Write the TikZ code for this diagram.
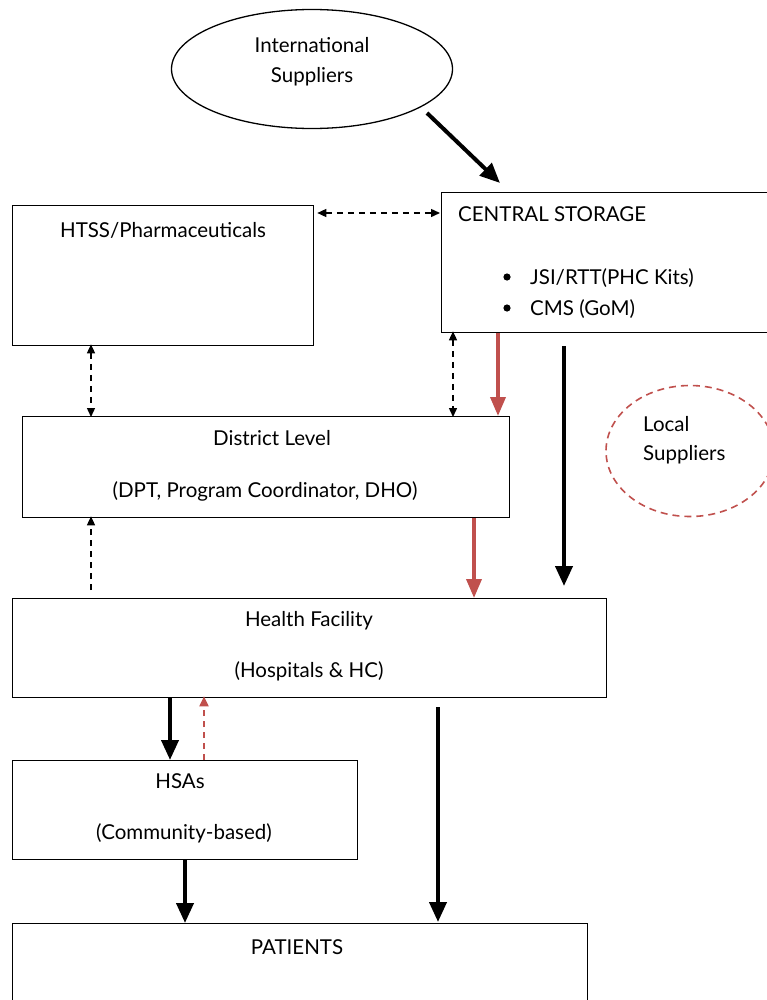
\documentclass[tikz,border=0pt]{standalone}
\usepackage{fontspec}
\setmainfont{Lato}
\usetikzlibrary{arrows.meta,shapes.geometric}
\definecolor{flowred}{RGB}{192,80,77}
\tikzset{
  box/.style={draw=black, line width=1.3bp, anchor=north west, inner sep=0pt},
  lbl/.style={font=\fontsize{20.5bp}{24bp}\selectfont, inner sep=0pt, anchor=base},
  lbll/.style={lbl, anchor=base west},
  bold/.style={line width=4bp, -{Triangle[length=20bp,width=17bp]}},
  redflow/.style={line width=3.6bp, draw=flowred, -{Triangle[length=19bp,width=15bp]}, flowred},
  info/.style={line width=1.4bp, dash pattern=on 6bp off 5bp, {Triangle[length=9bp,width=8bp]}-{Triangle[length=9bp,width=8bp]}},
  infoup/.style={line width=1.4bp, dash pattern=on 6bp off 5bp, -{Triangle[length=9bp,width=8bp]}},
  redup/.style={line width=1.8bp, draw=flowred, dash pattern=on 6bp off 5bp, -{Triangle[length=10bp,width=9bp]}, flowred}
}
\begin{document}
\begin{tikzpicture}[x=1bp,y=-1bp]
\useasboundingbox (0,0) rectangle (767,1000);

% suppliers
\node[ellipse, draw, line width=1.3bp, minimum width=281bp, minimum height=119bp] (intl) at (312,69) {};
\node[lbl] (intl1) at (312,52) {International};
\node[lbl] (intl2) at (312,82) {Suppliers};
\node[ellipse, draw=flowred, line width=1.6bp, dash pattern=on 7bp off 5bp, minimum width=168bp, minimum height=131bp] (local) at (690,451) {};
\node[lbll] (local1) at (643,431) {Local};
\node[lbll] (local2) at (643,460) {Suppliers};

% boxes
\node[box, minimum width=301bp, minimum height=140bp] (htss) at (12,205) {};
\node[lbl] (htsst) at (163,237) {HTSS/Pharmaceuticals};

\node[box, minimum width=330bp, minimum height=140bp] (cs) at (441,192) {};
\node[lbll] (cst) at (458,221) {CENTRAL STORAGE};
\node[lbll] (cs1) at (530,284) {JSI/RTT(PHC Kits)};
\node[lbll] (cs2) at (530,315) {CMS (GoM)};
\fill (507,277) circle (3.6bp);
\fill (507,308) circle (3.6bp);

\node[box, minimum width=487bp, minimum height=101bp] (dist) at (22,416) {};
\node[lbl] (dist1) at (272,445) {District Level};
\node[lbl] (dist2) at (265,497) {(DPT, Program Coordinator, DHO)};

\node[box, minimum width=594bp, minimum height=99bp] (hf) at (12,598) {};
\node[lbl] (hf1) at (309,626) {Health Facility};
\node[lbl] (hf2) at (309,677) {(Hospitals \& HC)};

\node[box, minimum width=345bp, minimum height=99bp] (hsa) at (12,760) {};
\node[lbl] (hsa1) at (180,788) {HSAs};
\node[lbl] (hsa2) at (184,839) {(Community-based)};

\node[box, minimum width=575bp, minimum height=120bp] (pat) at (12,923) {};
\node[lbl] (pat1) at (297,954) {PATIENTS};

% connector end points
\coordinate (a0) at (427,113);
\coordinate (a1) at (500,183);
\coordinate (b0) at (564,346);
\coordinate (b1) at (564,586);
\coordinate (c0) at (438,707);
\coordinate (c1) at (438,922);
\coordinate (d0) at (91,590);

% flows
\draw[bold] (a0) -- (a1);
\draw[info] (htss.north east |- 0,213) ++(3,0) -- ([xshift=-1bp]cs.west |- 0,213);
\draw[info] ([yshift=2bp]htss.south -| 91,0) -- ([yshift=-1bp]dist.north -| 91,0);
\draw[info] ([yshift=2bp]cs.south -| 453,0) -- ([yshift=-1bp]dist.north -| 453,0);
\draw[redflow] (cs.south -| 498,0) -- (dist.north -| 498,0);
\draw[bold] (b0) -- (b1);
\draw[infoup] (d0) -- ([yshift=2bp]dist.south -| 91,0);
\draw[redflow] (dist.south -| 474,0) -- (hf.north -| 474,0);
\draw[bold] (hf.south -| 170,0) -- (hsa.north -| 170,0);
\draw[redup] (hsa.north -| 204,0) -- ([yshift=2bp]hf.south -| 204,0);
\draw[bold] (c0) -- (c1);
\draw[bold] (hsa.south -| 185,0) -- (pat.north -| 185,0);
\end{tikzpicture}
\end{document}
